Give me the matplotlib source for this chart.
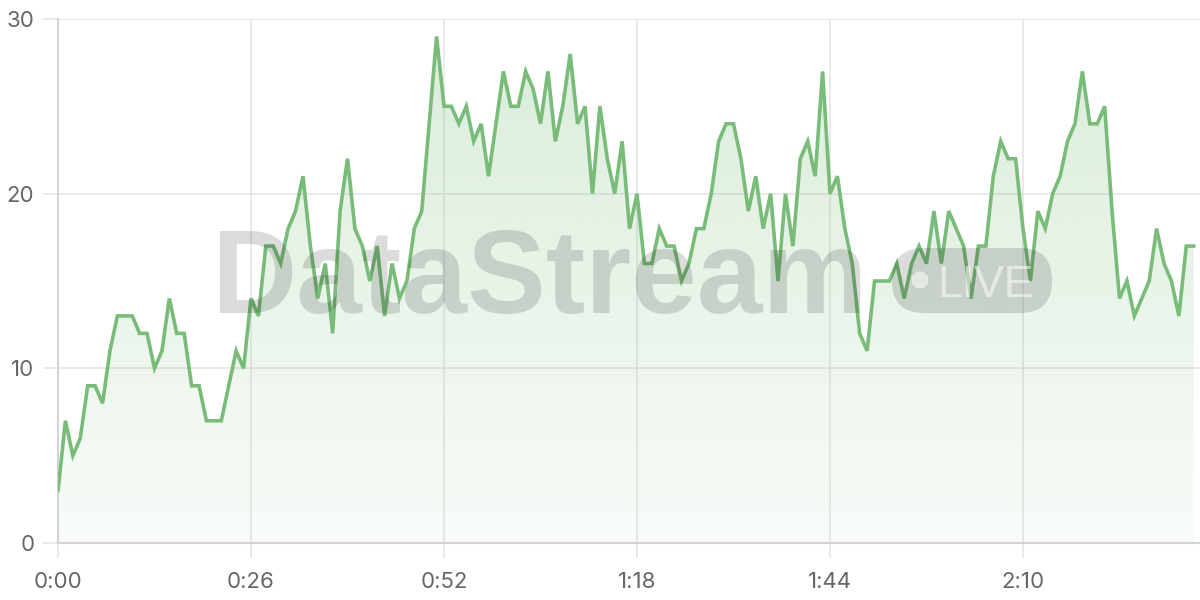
import matplotlib
matplotlib.use('Agg')
import matplotlib.pyplot as plt
import numpy as np
from matplotlib.patches import FancyBboxPatch, Polygon, Circle
from matplotlib.transforms import IdentityTransform

# values, one per second
values = [3, 7, 5, 6, 9, 9, 8, 11, 13, 13, 13, 12, 12, 10, 11, 14, 12, 12, 9, 9,
          7, 7, 7, 9, 11, 10, 14, 13, 17, 17, 16, 18, 19, 21, 17, 14, 16, 12, 19, 22,
          18, 17, 15, 17, 13, 16, 14, 15, 18, 19, 24, 29, 25, 25, 24, 25, 23, 24, 21, 24,
          27, 25, 25, 27, 26, 24, 27, 23, 25, 28, 24, 25, 20, 25, 22, 20, 23, 18, 20, 16,
          16, 18, 17, 17, 15, 16, 18, 18, 20, 23, 24, 24, 22, 19, 21, 18, 20, 15, 20, 17,
          22, 23, 21, 27, 20, 21, 18, 16, 12, 11, 15, 15, 15, 16, 14, 16, 17, 16, 19, 16,
          19, 18, 17, 14, 17, 17, 21, 23, 22, 22, 18, 15, 19, 18, 20, 21, 23, 24, 27, 24,
          24, 25, 19, 14, 15, 13, 14, 15, 18, 16, 15, 13, 17, 17]
seconds = np.arange(len(values))
x_ticks = [0, 26, 52, 78, 104, 130]
x_labels = ["0:00", "0:26", "0:52", "1:18", "1:44", "2:10"]
y_ticks = [0, 10, 20, 30]

line_color = '#79bc79'
grid_color = '#e6e6e6'
text_color = '#666666'

fig = plt.figure(figsize=(12, 6), dpi=100)
ax = fig.add_axes([58/1200, 1 - 543/600, 1 - 58/1200, (543 - 19)/600])
ax.set_xlim(0, (1200 - 58) / 7.423)
ax.set_ylim(0, 30)

# gradient fill under the line (stronger at the top)
grad = np.zeros((256, 1, 4))
grad[:, 0, :3] = matplotlib.colors.to_rgb(line_color)
grad[:, 0, 3] = np.linspace(0.05, 0.28, 256)
img = ax.imshow(grad, extent=(0, seconds[-1], 0, 30), origin='lower',
                aspect='auto', zorder=1, interpolation='bilinear')
poly = np.column_stack([np.r_[seconds, seconds[-1], 0], np.r_[values, 0, 0]])
clip = Polygon(poly, closed=True, transform=ax.transData, facecolor='none', edgecolor='none')
ax.add_patch(clip)
img.set_clip_path(clip)

ax.plot(seconds, values, color=line_color, lw=2.6, zorder=5, solid_joinstyle='miter')

# watermark (pixel coordinates, origin bottom-left)
px = IdentityTransform()
fig.text(211, 600 - 313, "DataStream", fontsize=85, fontweight='bold',
         family='Liberation Sans', color='#000000', alpha=0.14, ha='left', va='baseline',
         transform=px, zorder=3)
pill = FancyBboxPatch((892, 600 - 313), 160, 65,
                      boxstyle="round,pad=0,rounding_size=32",
                      transform=px, facecolor='#000000', alpha=0.14,
                      edgecolor='none', zorder=3)
fig.patches.append(pill)
fig.patches.append(Circle((920, 600 - 280), 8.5, transform=px,
                          facecolor='white', alpha=0.55, edgecolor='none', zorder=3))
fig.text(937, 600 - 297, "LIVE", fontsize=32, family='Liberation Sans',
         color='white', alpha=0.55, ha='left', va='baseline', transform=px, zorder=3)

ax.set_xticks(x_ticks)
ax.set_xticklabels(x_labels)
ax.set_yticks(y_ticks)
ax.grid(True, color=grid_color, lw=1.2, zorder=0)
ax.set_axisbelow(True)
for side in ['top', 'right']:
    ax.spines[side].set_visible(False)
for side in ['left', 'bottom']:
    ax.spines[side].set_color('#d4d4d4')
    ax.spines[side].set_linewidth(1.5)
ax.tick_params(axis='both', length=11, width=1.2, color=grid_color,
               labelcolor=text_color, labelsize=16)
ax.tick_params(axis='x', pad=10)
ax.tick_params(axis='y', pad=6)
for lab in ax.get_xticklabels() + ax.get_yticklabels():
    lab.set_family('Inter')

fig.savefig('out.png', dpi=100)
